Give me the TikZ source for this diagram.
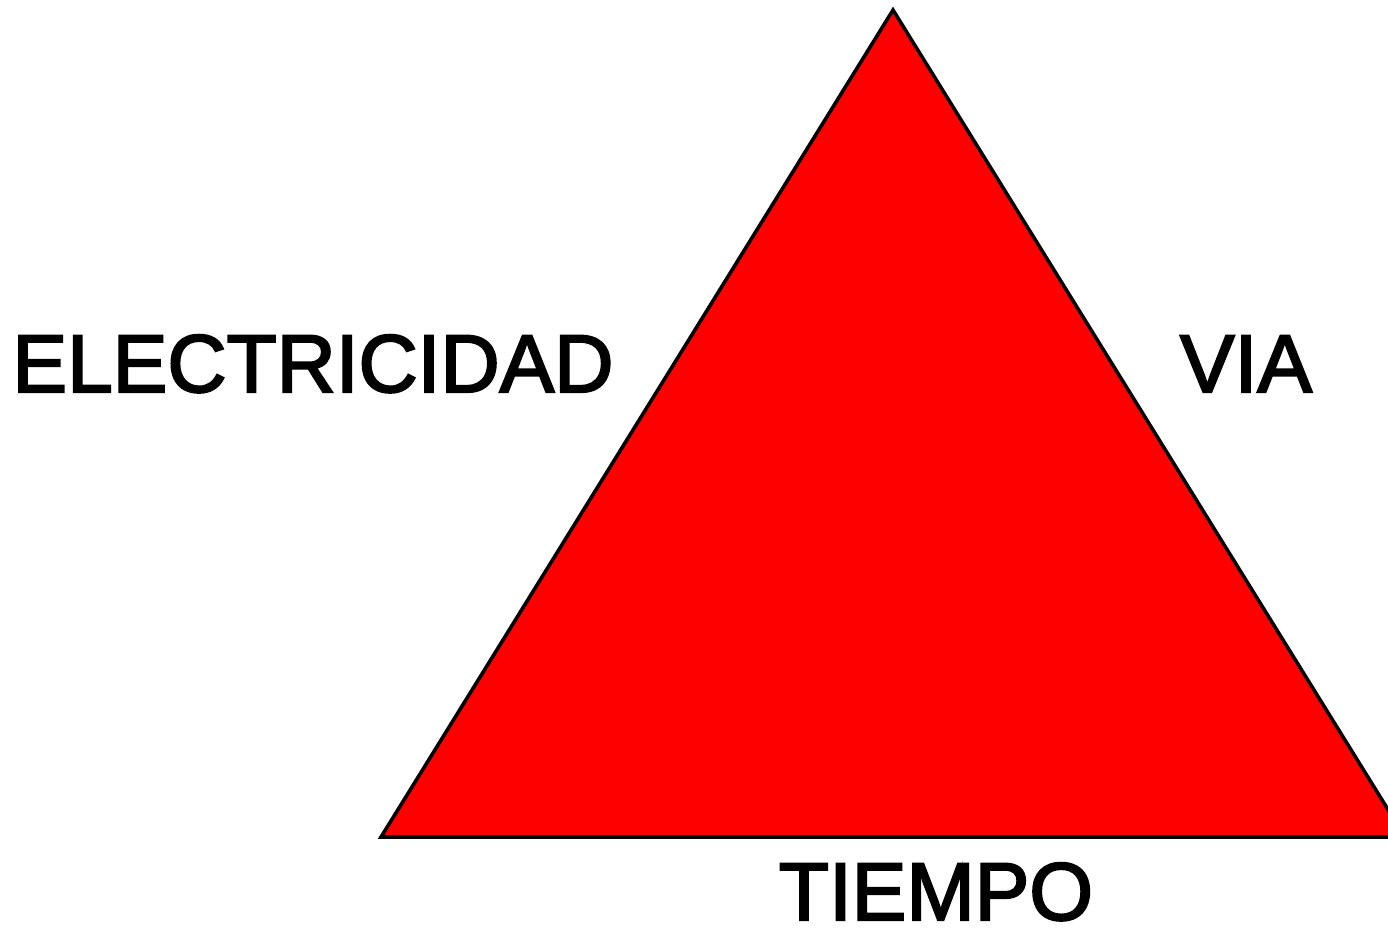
\documentclass[tikz,border=0pt]{standalone}
\usepackage{fontspec}
\setmainfont{Liberation Sans}
\newcommand{\heavytext}[1]{\special{pdf:code 2 Tr 0.6 w}#1\special{pdf:code 0 Tr}}
\usetikzlibrary{positioning}

\begin{document}
\begin{tikzpicture}[
    x=0.01cm, y=0.01cm,
    % Styles
    side/.style={draw=black, line width=1pt, fill=red, line join=miter},
    label/.style={font=\fontsize{23.3}{28}\selectfont, anchor=base, inner sep=0pt}
]
\useasboundingbox (0,0) rectangle (1388,930);

% --- Triangle corners ---
\coordinate (top) at (893,920);
\coordinate (left) at (381,93);
\coordinate (right) at (1405,93);

\draw[side] (top) -- (left) -- (right) -- cycle;

% --- Labels ---
\node[label] (electricidad) at (313,538) {\heavytext{ELECTRICIDAD}};
\node[label] (via) at (1246,538) {\heavytext{VIA}};
\node[label] (tiempo) at (936,10) {\heavytext{TIEMPO}};

\end{tikzpicture}
\end{document}
